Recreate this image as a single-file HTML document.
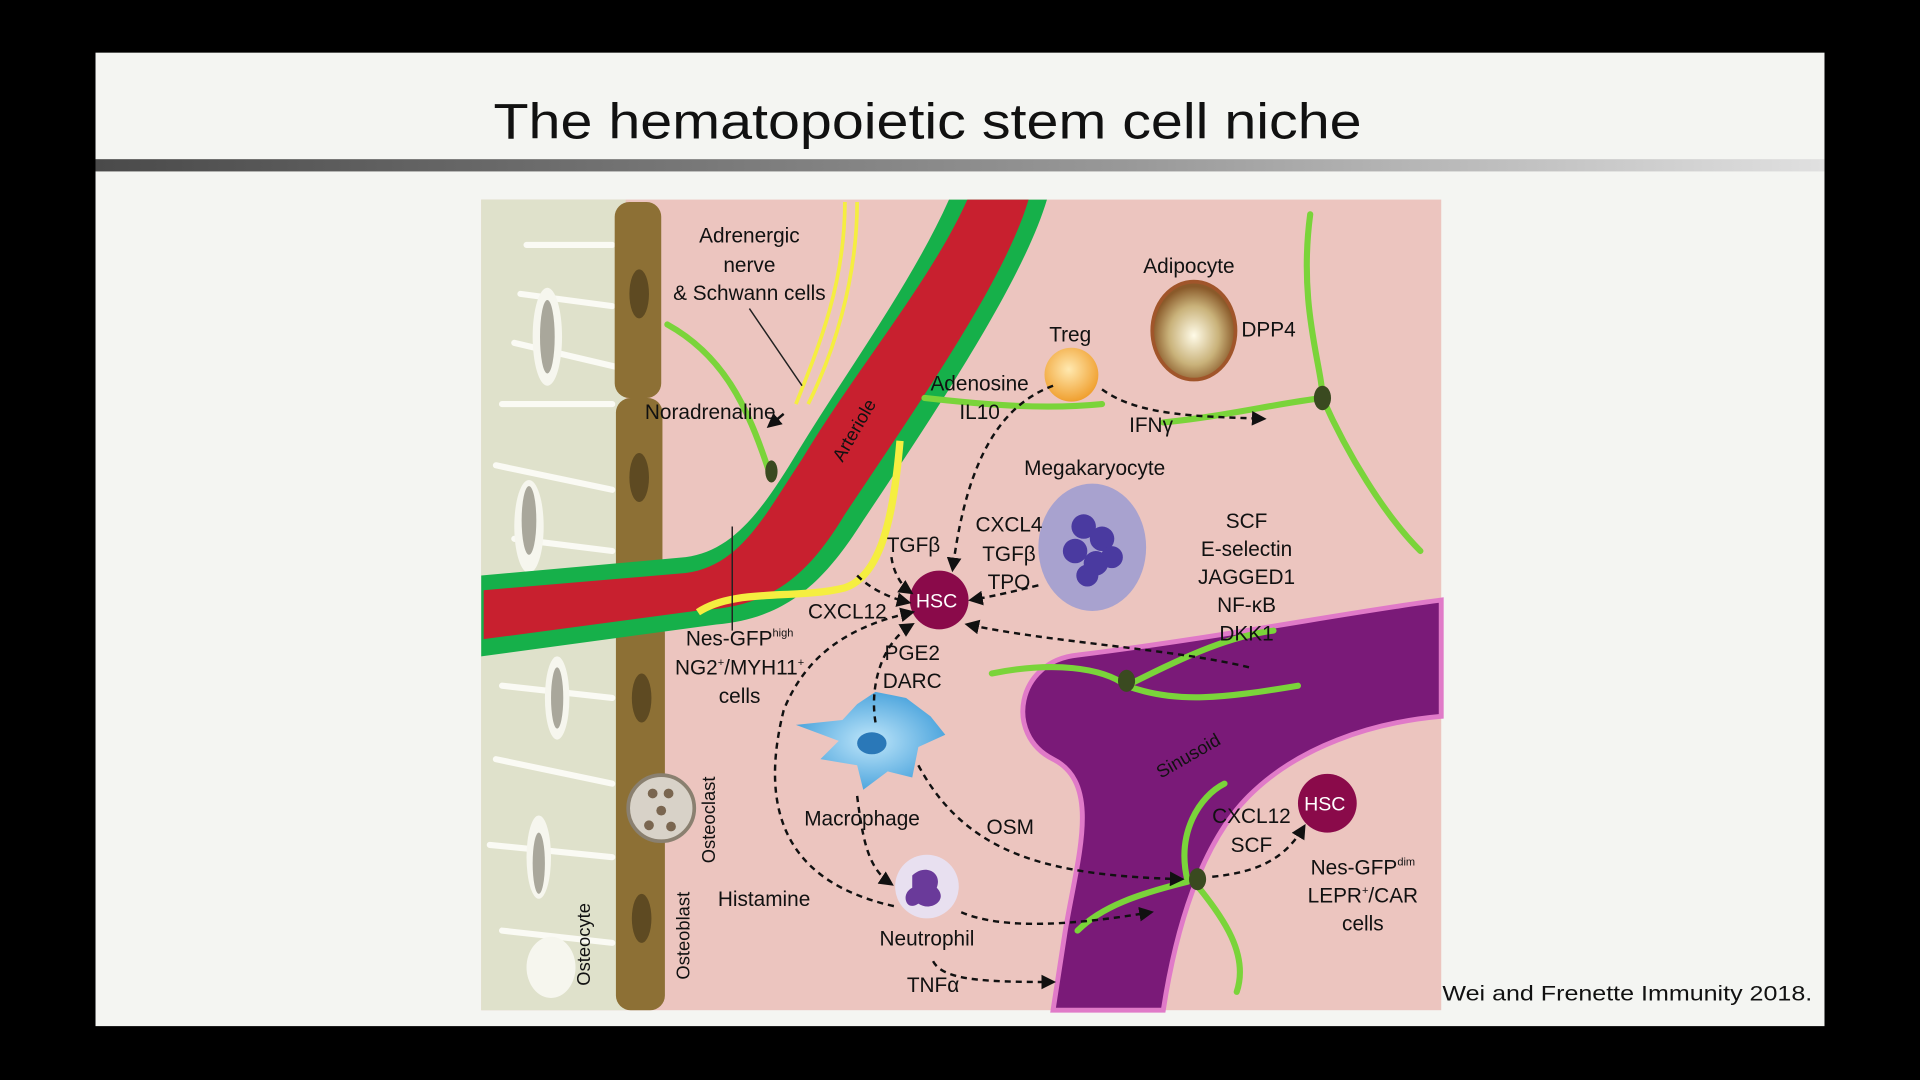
<!DOCTYPE html>
<html><head><meta charset="utf-8"><style>
html,body{margin:0;padding:0;background:#000;width:1920px;height:1080px;overflow:hidden}
svg{display:block}
text{font-family:"Liberation Sans",sans-serif;fill:#111}
</style></head><body>
<svg width="1920" height="1080" viewBox="0 0 1568 882" xmlns="http://www.w3.org/2000/svg">
<defs>
<linearGradient id="bar" x1="0" x2="1"><stop offset="0" stop-color="#4a4a4a"/><stop offset="0.6" stop-color="#999"/><stop offset="1" stop-color="#e0e0e0"/></linearGradient>
<radialGradient id="adi" cx="0.5" cy="0.55" r="0.5"><stop offset="0" stop-color="#fffbe8"/><stop offset="0.6" stop-color="#c9b27a"/><stop offset="1" stop-color="#8a5a2a"/></radialGradient>
<radialGradient id="treg" cx="0.45" cy="0.4" r="0.6"><stop offset="0" stop-color="#ffe9b0"/><stop offset="1" stop-color="#f0a030"/></radialGradient>
<radialGradient id="mac" cx="0.5" cy="0.5" r="0.6"><stop offset="0" stop-color="#bfe6fa"/><stop offset="1" stop-color="#3a9ad8"/></radialGradient>
<marker id="ah" viewBox="0 0 10 10" refX="8" refY="5" markerWidth="6" markerHeight="6" orient="auto"><path d="M0,0L10,5L0,10z" fill="#111"/></marker>
</defs>
<rect x="0" y="0" width="1568" height="882" fill="#000"/>
<rect x="78" y="43" width="1412" height="795" fill="#f4f5f2"/>
<text x="403" y="113" font-size="41" textLength="709" lengthAdjust="spacingAndGlyphs">The hematopoietic stem cell niche</text>
<rect x="78" y="130" width="1412" height="10" fill="url(#bar)"/>
<rect x="393" y="163" width="784" height="662" fill="#ecc5bf"/>
<rect x="393" y="163" width="118" height="662" fill="#dfe1cb"/>
<g stroke="#fafaf4" stroke-width="5" fill="none" stroke-linecap="round">
<path d="M430,200 L500,200 M425,240 L500,250 M420,280 L505,300 M410,330 L500,330 M405,380 L500,400 M420,440 L500,450 M400,500 L500,510 M410,560 L500,570 M405,620 L500,640 M400,690 L500,700 M410,760 L500,770"/>
</g>
<g fill="#f6f6ee">
<ellipse cx="447" cy="275" rx="12" ry="40"/><ellipse cx="432" cy="430" rx="12" ry="38"/><ellipse cx="455" cy="570" rx="10" ry="34"/><ellipse cx="440" cy="700" rx="10" ry="34"/><ellipse cx="450" cy="790" rx="20" ry="25"/>
</g>
<g fill="#a9a79b"><ellipse cx="447" cy="275" rx="6" ry="30"/><ellipse cx="432" cy="425" rx="6" ry="28"/><ellipse cx="455" cy="570" rx="5" ry="25"/><ellipse cx="440" cy="705" rx="5" ry="25"/></g>
<g fill="#8d7035">
<rect x="502" y="165" width="38" height="160" rx="12"/>
<rect x="503" y="325" width="38" height="175" rx="12"/>
<rect x="503" y="505" width="40" height="320" rx="12"/>
</g>
<g fill="#5e4a22"><ellipse cx="522" cy="240" rx="8" ry="20"/><ellipse cx="522" cy="390" rx="8" ry="20"/><ellipse cx="524" cy="570" rx="8" ry="20"/><ellipse cx="524" cy="750" rx="8" ry="20"/></g>
<circle cx="540" cy="660" r="27" fill="#d8d2c8" stroke="#8a8070" stroke-width="3"/>
<g fill="#7a6650"><circle cx="533" cy="648" r="4"/><circle cx="546" cy="648" r="4"/><circle cx="540" cy="662" r="4"/><circle cx="530" cy="674" r="4"/><circle cx="548" cy="675" r="4"/></g>
<text font-size="15" transform="translate(584,705) rotate(-90)">Osteoclast</text>
<text font-size="15" transform="translate(563,800) rotate(-90)">Osteoblast</text>
<text font-size="15" transform="translate(482,805) rotate(-90)">Osteocyte</text>
<path d="M1177,490 C1100,500 1000,520 880,535 C830,540 820,600 860,620 C900,640 880,700 870,760 L860,825 L950,825 C960,760 980,690 1020,650 C1060,610 1120,590 1177,585 Z" fill="#7a1a78" stroke="#e07ac8" stroke-width="4"/>
<text font-size="15" transform="translate(948,636) rotate(-30)">Sinusoid</text>
<path d="M775,163 L855,163 C835,230 765,335 705,425 C675,472 645,505 585,510 L393,536 L393,470 L560,455 C598,450 622,418 652,368 C695,298 745,230 775,163 Z" fill="#16b04a"/>
<path d="M790,163 L840,163 C820,230 750,330 690,420 C660,470 630,495 575,498 L395,522 L395,482 L560,468 C605,462 625,420 655,375 C700,300 760,230 790,163 Z" fill="#c8202f"/>
<path d="M690,165 C690,230 670,280 650,330 M700,165 C700,230 680,290 660,330" stroke="#f5ee40" stroke-width="3" fill="none"/>
<path d="M735,360 C730,420 720,470 690,480 C650,490 600,480 570,500" stroke="#f5ee40" stroke-width="6" fill="none"/>
<text font-size="15" transform="translate(688,378) rotate(-60)">Arteriole</text>
<g fill="none" stroke="#7ad43a" stroke-width="5" stroke-linecap="round">
<path d="M545,265 C590,290 610,330 628,385"/>
<path d="M755,325 C800,330 850,335 900,330"/>
<path d="M1070,175 C1060,250 1080,300 1080,325 M950,345 C1000,340 1040,330 1080,325 C1100,370 1130,420 1160,450"/>
<path d="M810,550 C860,540 900,545 920,560 C960,540 1000,520 1040,515 M920,560 C960,575 1000,570 1060,560"/>
<path d="M970,720 C960,680 980,650 1000,640 M970,720 C930,730 900,740 880,760 M975,720 C1000,750 1020,780 1010,810"/>
</g>
<g fill="#3a4a20"><ellipse cx="630" cy="385" rx="5" ry="9"/><ellipse cx="1080" cy="325" rx="7" ry="10"/><ellipse cx="920" cy="556" rx="7" ry="9"/><ellipse cx="978" cy="718" rx="7" ry="9"/></g>
<ellipse cx="975" cy="270" rx="34" ry="40" fill="url(#adi)" stroke="#a0552a" stroke-width="3"/>
<circle cx="875" cy="306" r="22" fill="url(#treg)"/>
<ellipse cx="892" cy="447" rx="44" ry="52" fill="#a8a2cf"/>
<g fill="#4a3aa0"><circle cx="885" cy="430" r="10"/><circle cx="900" cy="440" r="10"/><circle cx="878" cy="450" r="10"/><circle cx="895" cy="460" r="10"/><circle cx="908" cy="455" r="9"/><circle cx="888" cy="470" r="9"/></g>
<path d="M700,575 L715,565 L740,570 L760,585 L772,600 L750,610 L745,635 L725,630 L705,645 L700,625 L670,620 L685,605 L650,592 L688,588 Z" fill="url(#mac)"/>
<ellipse cx="712" cy="607" rx="12" ry="9" fill="#2a78b8"/>
<circle cx="757" cy="724" r="26" fill="#e8e0f0"/>
<path d="M745,715 C755,705 770,712 765,725 C775,735 760,745 750,738 C740,745 735,730 745,725 Z" fill="#6a3a9a"/>
<circle cx="767" cy="490" r="24" fill="#8a0a4a"/><text x="748" y="496" font-size="16" style="fill:#fff">HSC</text>
<circle cx="1084" cy="656" r="24" fill="#8a0a4a"/><text x="1065" y="662" font-size="16" style="fill:#fff">HSC</text>
<g font-size="17" text-anchor="middle">
<text x="612" y="198">Adrenergic</text><text x="612" y="222">nerve</text><text x="612" y="245">&amp; Schwann cells</text>
<text x="580" y="342">Noradrenaline</text>
<text x="874" y="279">Treg</text>
<text x="971" y="223">Adipocyte</text>
<text x="1036" y="275">DPP4</text>
<text x="800" y="319">Adenosine</text><text x="800" y="342">IL10</text>
<text x="940" y="353">IFNγ</text>
<text x="894" y="388">Megakaryocyte</text>
<text x="824" y="434">CXCL4</text><text x="824" y="458">TGFβ</text><text x="824" y="481">TPO</text>
<text x="746" y="451">TGFβ</text>
<text x="692" y="505">CXCL12</text>
<text x="1018" y="431">SCF</text><text x="1018" y="454">E-selectin</text><text x="1018" y="477">JAGGED1</text><text x="1018" y="500">NF-κB</text><text x="1018" y="523">DKK1</text>
<text x="745" y="539">PGE2</text><text x="745" y="562">DARC</text>
<text x="604" y="527">Nes-GFP<tspan font-size="9" dy="-7">high</tspan></text>
<text x="604" y="551">NG2<tspan font-size="9" dy="-7">+</tspan><tspan dy="7">/MYH11</tspan><tspan font-size="9" dy="-7">+</tspan></text>
<text x="604" y="574">cells</text>
<text x="704" y="674">Macrophage</text>
<text x="825" y="681">OSM</text>
<text x="624" y="740">Histamine</text>
<text x="757" y="772">Neutrophil</text>
<text x="762" y="810">TNFα</text>
<text x="1022" y="672">CXCL12</text><text x="1022" y="696">SCF</text>
<text x="1113" y="714">Nes-GFP<tspan font-size="9" dy="-7">dim</tspan></text>
<text x="1113" y="737">LEPR<tspan font-size="9" dy="-7">+</tspan><tspan dy="7">/CAR</tspan></text>
<text x="1113" y="760">cells</text>
</g>
<text x="1178" y="817" font-size="17" textLength="302" lengthAdjust="spacingAndGlyphs">Wei and Frenette Immunity 2018.</text>
<path d="M612,252 L655,315 M598,430 L598,515" stroke="#222" stroke-width="1.2" fill="none"/>
<g stroke="#111" stroke-width="2" fill="none" stroke-dasharray="5,4" marker-end="url(#ah)">
<path d="M860,315 C820,330 790,370 778,465"/>
<path d="M900,318 C930,340 980,340 1032,342"/>
<path d="M848,478 C820,485 805,488 793,490"/>
<path d="M728,455 C730,470 738,480 744,484"/>
<path d="M700,470 C710,480 725,488 742,492"/>
<path d="M1020,545 C960,530 860,525 790,510"/>
<path d="M715,590 C710,560 720,525 745,510"/>
<path d="M730,740 C640,720 620,660 640,580 C660,530 700,510 745,500"/>
<path d="M750,625 C790,700 860,715 965,718"/>
<path d="M700,650 C705,690 710,710 728,722"/>
<path d="M785,745 C820,760 880,755 940,745"/>
<path d="M762,785 C770,800 800,802 860,802"/>
<path d="M990,716 C1030,712 1050,700 1065,675"/>
</g>
<path d="M640,338 L628,348" stroke="#111" stroke-width="2" marker-end="url(#ah)"/>
</svg>
</body></html>
